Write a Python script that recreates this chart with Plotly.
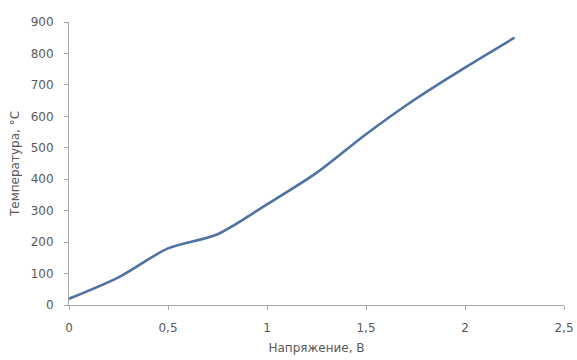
import plotly.graph_objects as go

voltage = [0, 0.25, 0.5, 0.75, 1.0, 1.25, 1.5, 1.75, 2.0, 2.25]
temperature = [20, 88, 180, 225, 320, 420, 543, 655, 755, 850]

x_tickvals = [0, 0.5, 1, 1.5, 2, 2.5]
x_ticktext = ["0", "0,5", "1", "1,5", "2", "2,5"]
y_tickvals = [0, 100, 200, 300, 400, 500, 600, 700, 800, 900]

fig = go.Figure()
fig.add_trace(go.Scatter(
    x=voltage, y=temperature, mode="lines",
    line=dict(color="#4F72A3", width=2.6, shape="spline", smoothing=0.8),
    showlegend=False,
))

font = dict(family="DejaVu Sans", size=12, color="#595959")
fig.update_layout(
    width=577, height=360,
    margin=dict(l=69, r=13, t=22, b=55, autoexpand=False),
    paper_bgcolor="white", plot_bgcolor="white",
    font=font,
    xaxis=dict(
        range=[0, 2.5], tickvals=x_tickvals, ticktext=x_ticktext,
        showgrid=False, zeroline=False, showline=True, linecolor="#A8A8A8", linewidth=1,
        ticks="outside", ticklen=4, tickcolor="#A8A8A8", ticklabelstandoff=8,
        title=dict(text="Напряжение, В", font=font, standoff=9),
    ),
    yaxis=dict(
        range=[0, 900], tickvals=y_tickvals,
        showgrid=False, zeroline=False, showline=True, linecolor="#A8A8A8", linewidth=1,
        ticks="outside", ticklen=4, tickcolor="#A8A8A8", ticklabelstandoff=8,
        title=dict(text="Температура, °С", font=font, standoff=8),
    ),
)

fig.write_html("out.html", post_script="document.body.style.margin='0';",
               config={"displayModeBar": False})
